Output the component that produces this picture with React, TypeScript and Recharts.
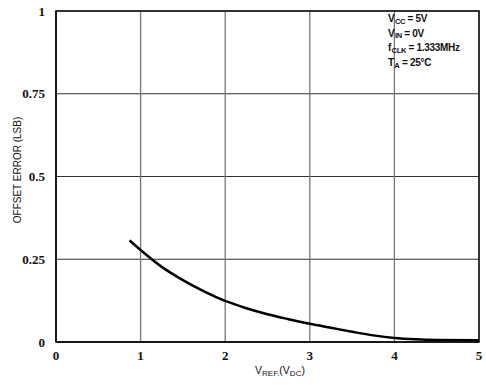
import { LineChart, Line, XAxis, YAxis, CartesianGrid, ReferenceArea, Label } from 'recharts';

// reference voltage (V) vs offset error (LSB)
const vref = [0.87, 1.0, 1.25, 1.5, 1.75, 2.0, 2.25, 2.5, 2.75, 3.0, 3.25, 3.5, 3.75, 4.0, 4.25, 4.5, 5.0];
const offsetError = [
  0.307, 0.278, 0.227, 0.187, 0.153, 0.124, 0.102, 0.084, 0.069, 0.055, 0.043, 0.031, 0.02, 0.012, 0.008, 0.006,
  0.005,
];

const xTicks = [0, 1, 2, 3, 4, 5];
const yTicks = [0, 0.25, 0.5, 0.75, 1];
const yTickLabels = ['0', '0.25', '0.5', '0.75', '1'];

const data = vref.map((v, i) => ({ v, err: offsetError[i] }));

const tickStyle = {
  fontFamily: '"Liberation Serif", serif',
  fontWeight: 700,
  fontSize: 13,
  fill: '#111',
};

const titleFont = '"Liberation Sans", sans-serif';

const XTitle = () => (
  <text x={255} y={374} fontFamily={titleFont} fontSize={10.5} fill="#111">
    <tspan>V</tspan>
    <tspan fontSize={8} dy={1.5}>REF.</tspan>
    <tspan dy={-1.5}>(V</tspan>
    <tspan fontSize={8} dy={1.5}>DC</tspan>
    <tspan dy={-1.5}>)</tspan>
  </text>
);

const YTitle = () => (
  <text
    x={21}
    y={170}
    transform="rotate(-90 21 170)"
    textAnchor="middle"
    fontFamily={titleFont}
    fontSize={10}
    fill="#111"
  >
    OFFSET ERROR (LSB)
  </text>
);

const Sub = ({ children }: { children: string }) => (
  <span style={{ fontSize: 7.5, position: 'relative', top: 1.5, marginLeft: 0.5 }}>{children}</span>
);

export default function App() {
  return (
    <div style={{ position: 'absolute', left: 0, top: 0, width: 486, height: 386, background: '#fff' }}>
      <LineChart width={486} height={386} data={data} margin={{ top: 11, right: 7, bottom: 0, left: 0 }}>
        <CartesianGrid vertical={false} stroke="#333" strokeWidth={1} />
        <CartesianGrid horizontal={false} stroke="#777" strokeWidth={1.3} />
        <XAxis
          dataKey="v"
          type="number"
          domain={[0, 5]}
          ticks={xTicks}
          height={44}
          tickSize={7}
          tickLine={false}
          axisLine={{ stroke: '#111', strokeWidth: 1.5 }}
          tick={tickStyle}
        >
          <Label content={() => <XTitle />} />
        </XAxis>
        <YAxis
          type="number"
          domain={[0, 1]}
          ticks={yTicks}
          width={56}
          tickSize={9}
          tickLine={false}
          axisLine={{ stroke: '#111', strokeWidth: 1.5 }}
          tick={tickStyle}
          tickFormatter={(val: number) => yTickLabels[yTicks.indexOf(val)]}
        >
          <Label content={() => <YTitle />} />
        </YAxis>
        <ReferenceArea x1={0} x2={5} y1={0} y2={1} fill="none" stroke="#111" strokeWidth={1.5} />
        <Line
          dataKey="err"
          type="monotone"
          stroke="#000"
          strokeWidth={2.5}
          dot={false}
          isAnimationActive={false}
        />
      </LineChart>
      <div
        style={{
          position: 'absolute',
          left: 388,
          top: 12,
          fontFamily: titleFont,
          fontWeight: 700,
          fontSize: 10,
          letterSpacing: -0.3,
          lineHeight: '13.7px',
          color: '#111',
          whiteSpace: 'nowrap',
        }}
      >
        <div>V<Sub>CC</Sub> = 5V</div>
        <div>V<Sub>IN</Sub> = 0V</div>
        <div>f<Sub>CLK</Sub> = 1.333MHz</div>
        <div>T<Sub>A</Sub> = 25°C</div>
      </div>
    </div>
  );
}
